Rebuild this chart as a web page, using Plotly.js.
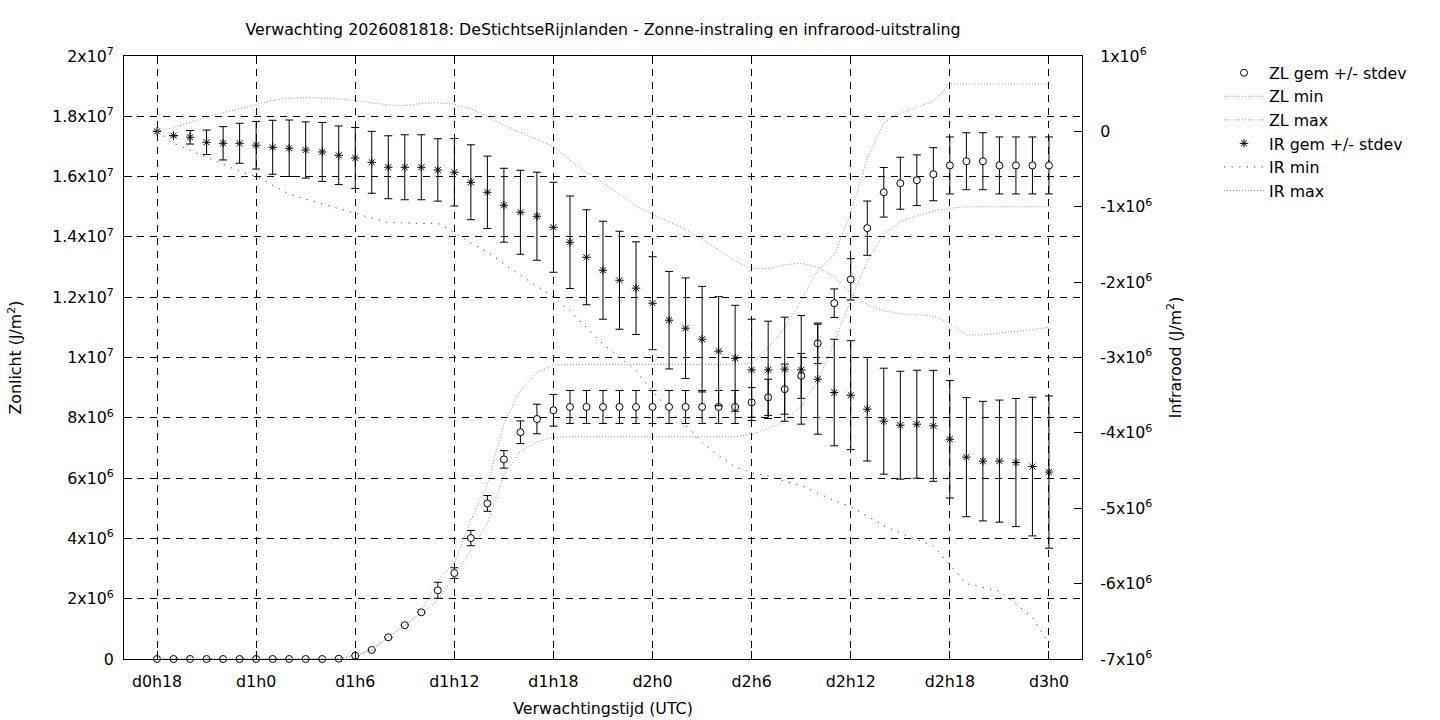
<!DOCTYPE html>
<html>
<head>
<meta charset="utf-8">
<script src="https://cdn.plot.ly/plotly-3.0.1.min.js"></script>
<style>
  html, body { margin: 0; padding: 0; background: #fff; }
  #chart { width: 1440px; height: 720px; }
</style>
</head>
<body>
<div id="chart"></div>
<script>
// forecast hours after d0h18
const hours = [0,1,2,3,4,5,6,7,8,9,10,11,12,13,14,15,16,17,18,19,20,21,22,23,24,25,26,27,
  28,29,30,31,32,33,34,35,36,37,38,39,40,41,42,43,44,45,46,47,48,49,50,51,52,53,54];
const xTickVals = [0, 6, 12, 18, 24, 30, 36, 42, 48, 54];
const xTickText = ['d0h18', 'd1h0', 'd1h6', 'd1h12', 'd1h18', 'd2h0', 'd2h6', 'd2h12', 'd2h18', 'd3h0'];

// values in MJ/m2 (x 1e6 J/m2)
const MJ = 1e6;

// zonlicht (left axis)
const zlMean = [0,0,0,0,0,0,0,0,0,0,0,0.01,
  0.11,0.3,0.72,1.12,1.55,2.28,2.85,4.01,5.16,6.62,7.52,7.96,8.25,
  8.36,8.36,8.36,8.36,8.36,8.36,8.36,8.36,8.36,8.36,8.36,
  8.51,8.68,8.95,9.39,10.47,11.8,12.59,14.29,15.48,15.78,15.88,16.08,16.37,16.51,16.51,16.37,16.37,16.37,16.37];
const zlSd = [0,0,0,0,0,0,0,0,0,0,0,0,0,0,0,0,0,
  0.265,0.177,0.254,0.26,0.29,0.376,0.49,0.525,
  0.547,0.547,0.547,0.547,0.547,0.547,0.547,0.547,0.547,0.547,0.547,
  0.49,0.6,0.83,0.746,0.673,0.475,0.686,0.9,0.823,0.862,0.84,0.88,0.945,0.945,0.945,0.945,0.945,0.945,0.945];
const zlMin = [0,0,0,0,0,0,0,0,0,0,0,0.01,0.11,0.3,
  0.72,1.12,1.5,1.95,2.73,3.6,4.5,6.1,6.9,7.2,7.35,
  7.37,7.37,7.37,7.37,7.37,7.37,7.37,7.37,7.37,7.37,7.37,
  7.45,7.65,7.9,8.4,9.2,10.5,11.9,13.2,14.1,14.5,14.7,14.85,14.95,15,15,15,15,15,15];
const zlMax = [0,0,0,0,0,0,0,0,0,0,0,0.01,0.11,0.3,
  0.72,1.12,1.6,2.6,3.2,4.6,5.8,7.8,8.9,9.5,9.75,
  9.77,9.77,9.77,9.77,9.77,9.77,9.77,9.77,9.77,9.77,9.77,
  9.8,10.3,11.0,11.9,12.9,13.4,14.8,16.6,17.8,18.1,18.3,18.5,19.07,19.07,19.07,19.07,19.07,19.07,19.07];

// infrarood (right axis)
const irMean = [0,-0.057,-0.078,-0.145,-0.158,-0.158,-0.184,-0.211,-0.224,-0.247,-0.273,-0.317,
  -0.353,-0.41,-0.476,-0.476,-0.476,-0.512,-0.542,-0.675,-0.808,-0.98,-1.073,-1.126,-1.272,
  -1.471,-1.67,-1.842,-1.975,-2.08,-2.28,-2.505,-2.611,-2.757,-2.916,-3.01,
  -3.164,-3.164,-3.155,-3.164,-3.288,-3.465,-3.5,-3.686,-3.845,-3.898,-3.885,-3.907,
  -4.084,-4.322,-4.375,-4.375,-4.394,-4.447,-4.52];
const irSd = [0,0,0.09,0.163,0.221,0.265,0.316,0.358,0.375,0.373,0.391,0.389,
  0.405,0.411,0.418,0.431,0.431,0.414,0.448,0.497,0.48,0.49,0.557,0.584,0.597,
  0.614,0.63,0.65,0.65,0.614,0.617,0.647,0.667,0.7,0.724,0.703,
  0.672,0.646,0.69,0.72,0.73,0.707,0.723,0.687,0.703,0.716,0.716,0.736,
  0.78,0.79,0.793,0.81,0.85,0.92,1.01];
const irMin = [0,-0.16,-0.25,-0.34,-0.44,-0.53,-0.6,-0.71,-0.83,-0.9,-0.965,-1.03,
  -1.09,-1.15,-1.21,-1.22,-1.22,-1.22,-1.34,-1.48,-1.6,-1.76,-1.91,-2.05,-2.2,
  -2.38,-2.6,-2.82,-3.0,-3.17,-3.45,-3.7,-3.9,-4.13,-4.3,-4.45,
  -4.53,-4.57,-4.64,-4.7,-4.8,-4.9,-4.98,-5.1,-5.23,-5.33,-5.41,-5.5,
  -5.75,-6.0,-6.05,-6.1,-6.27,-6.45,-6.8];
const irMax = [0,0.05,0.12,0.19,0.25,0.3,0.36,0.41,0.44,0.45,0.44,0.43,
  0.41,0.38,0.35,0.34,0.37,0.38,0.36,0.3,0.2,0.08,-0.01,-0.1,-0.2,
  -0.38,-0.55,-0.68,-0.84,-0.99,-1.1,-1.2,-1.3,-1.43,-1.57,-1.72,
  -1.82,-1.82,-1.77,-1.75,-1.8,-1.93,-2.15,-2.3,-2.38,-2.42,-2.43,-2.45,
  -2.55,-2.7,-2.7,-2.68,-2.66,-2.63,-2.6];

const yTickVals = [0, 2, 4, 6, 8, 10, 12, 14, 16, 18, 20];
const yTickText = ['0', '2x10<sup>6</sup>', '4x10<sup>6</sup>', '6x10<sup>6</sup>', '8x10<sup>6</sup>',
  '1x10<sup>7</sup>', '1.2x10<sup>7</sup>', '1.4x10<sup>7</sup>', '1.6x10<sup>7</sup>',
  '1.8x10<sup>7</sup>', '2x10<sup>7</sup>'];
const y2TickVals = [-7, -6, -5, -4, -3, -2, -1, 0, 1];
const y2TickText = ['-7x10<sup>6</sup>', '-6x10<sup>6</sup>', '-5x10<sup>6</sup>', '-4x10<sup>6</sup>',
  '-3x10<sup>6</sup>', '-2x10<sup>6</sup>', '-1x10<sup>6</sup>', '0', '1x10<sup>6</sup>'];

const FONT = 'DejaVu Sans, sans-serif';
const FS = 15.8;
const toJ = arr => arr.map(v => v * MJ);
const fineDot = {color: '#999', width: 1, dash: '1px,2px'};

const traces = [
    {
        x: hours, y: toJ(zlMean), name: 'ZL gem +/- stdev',
        type: 'scatter', mode: 'markers', cliponaxis: false,
        marker: {symbol: 'circle', size: 7, color: '#fff', line: {color: '#000', width: 1}},
        error_y: {type: 'data', array: toJ(zlSd), visible: true, color: '#000', thickness: 1, width: 4},
    },
    {
        x: hours, y: toJ(zlMin), name: 'ZL min',
        type: 'scatter', mode: 'lines', line: fineDot,
    },
    {
        x: hours, y: toJ(zlMax), name: 'ZL max',
        type: 'scatter', mode: 'lines', line: fineDot,
    },
    {
        x: hours, y: toJ(irMean), name: 'IR gem +/- stdev', yaxis: 'y2',
        type: 'scatter', mode: 'markers', cliponaxis: false,
        marker: {symbol: 'asterisk-open', size: 7, color: '#000', line: {color: '#000', width: 1}},
        error_y: {type: 'data', array: toJ(irSd), visible: true, color: '#000', thickness: 1, width: 4},
    },
    {
        x: hours, y: toJ(irMin), name: 'IR min', yaxis: 'y2',
        type: 'scatter', mode: 'lines', line: {color: '#666', width: 1, dash: '1.5px,6px'},
    },
    {
        x: hours, y: toJ(irMax), name: 'IR max', yaxis: 'y2',
        type: 'scatter', mode: 'lines', line: fineDot,
    },
];

const layout = {
    width: 1440,
    height: 720,
    paper_bgcolor: '#fff',
    plot_bgcolor: '#fff',
    font: {family: FONT, size: FS, color: '#000'},
    margin: {l: 124, r: 358, t: 56, b: 61},
    title: {
        text: 'Verwachting 2026081818: DeStichtseRijnlanden - Zonne-instraling en infrarood-uitstraling',
        font: {family: FONT, size: FS, color: '#000'},
        x: 0.5, xref: 'paper', xanchor: 'center',
        y: 1 - 29 / 720, yref: 'container', yanchor: 'middle',
    },
    xaxis: {
        range: [-2, 56],
        tickvals: xTickVals, ticktext: xTickText,
        ticks: 'inside', ticklen: 8, tickcolor: '#000',
        showline: true, linecolor: '#000', linewidth: 1, mirror: 'ticks',
        showgrid: true, gridcolor: '#000', gridwidth: 1, griddash: '7px,6px',
        zeroline: false,
        ticklabelstandoff: 8,
        title: {text: 'Verwachtingstijd (UTC)', standoff: 12, font: {family: FONT, size: FS}},
    },
    yaxis: {
        range: [0, 20 * MJ],
        tickvals: toJ(yTickVals), ticktext: yTickText,
        ticks: 'inside', ticklen: 8, tickcolor: '#000',
        showline: true, linecolor: '#000', linewidth: 1, mirror: true,
        showgrid: true, gridcolor: '#000', gridwidth: 1, griddash: '7px,6px',
        zeroline: false,
        ticklabelstandoff: 6,
        title: {text: 'Zonlicht (J/m<sup>2</sup>)', standoff: 26, font: {family: FONT, size: FS}},
    },
    yaxis2: {
        overlaying: 'y', side: 'right',
        range: [-7 * MJ, 1 * MJ],
        tickvals: toJ(y2TickVals), ticktext: y2TickText,
        ticks: 'inside', ticklen: 8, tickcolor: '#000',
        showline: true, linecolor: '#000', linewidth: 1,
        showgrid: false, zeroline: false,
        ticklabelstandoff: 14,
        title: {text: 'Infrarood (J/m<sup>2</sup>)', standoff: 18, font: {family: FONT, size: FS}},
    },
    showlegend: true,
    legend: {
        x: 1.143, xref: 'paper', xanchor: 'left',
        y: 1.0, yref: 'paper', yanchor: 'top',
        bgcolor: 'rgba(0,0,0,0)', borderwidth: 0,
        font: {family: FONT, size: FS, color: '#000'},
        itemwidth: 40,
    },
};

Plotly.newPlot('chart', traces, layout, {staticPlot: true, displayModeBar: false});
</script>
</body>
</html>
